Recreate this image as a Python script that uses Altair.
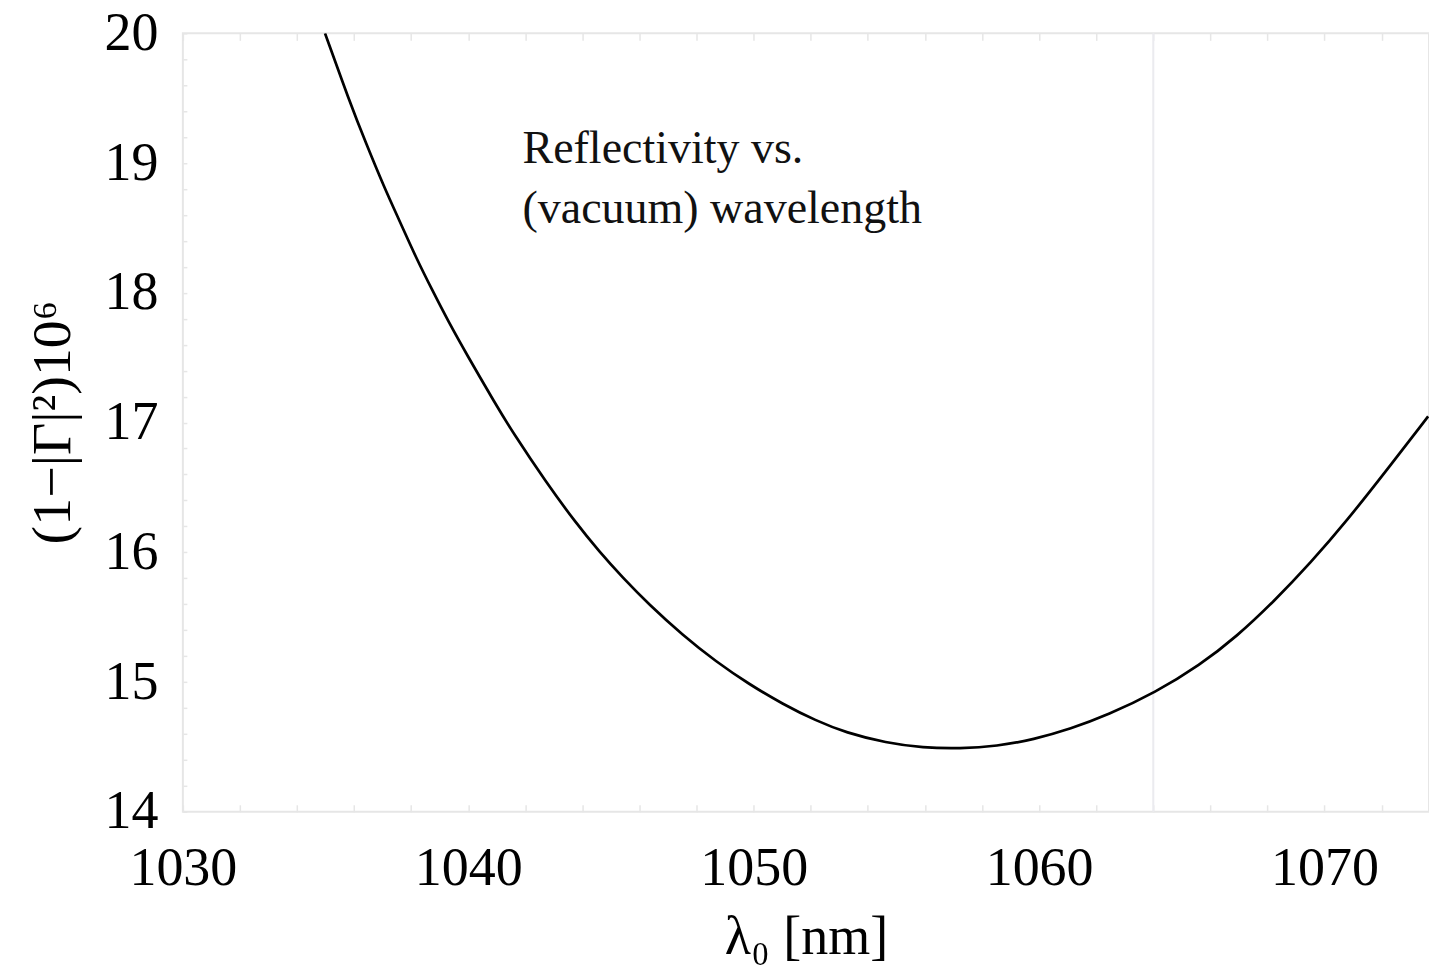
import altair as alt
import pandas as pd

# ---- data ----
wavelength_nm = [1034.98, 1035.83, 1036.42, 1037.06, 1037.58, 1038.17, 1038.75, 1039.33,
                 1039.92, 1040.97, 1041.55, 1042.72, 1043.77, 1044.59, 1045.40, 1046.34,
                 1047.51, 1048.68, 1049.84, 1051.01, 1052.18, 1053.23, 1054.64, 1055.93,
                 1057.23, 1058.52, 1059.81, 1061.11, 1062.40, 1064.08, 1065.63, 1066.93,
                 1068.22, 1069.51, 1070.81, 1072.10, 1073.63]
loss_ppm = [20.00, 19.48, 19.15, 18.81, 18.56, 18.27, 18.015, 17.767,
            17.535, 17.136, 16.927, 16.541, 16.226, 16.005, 15.807, 15.596,
            15.362, 15.157, 14.983, 14.831, 14.702, 14.610, 14.531, 14.493,
            14.487, 14.505, 14.557, 14.64, 14.745, 14.92, 15.13, 15.352,
            15.62, 15.918, 16.251, 16.611, 17.047]
marker_wavelength = [1064]
x_label_ticks = [1030, 1040, 1050, 1060, 1070]
y_label_ticks = [14, 15, 16, 17, 18, 19, 20]
x_minor_ticks = list(range(1030, 1074, 2))
y_minor_ticks = [round(14 + 0.2 * i, 1) for i in range(31)]
annotation_lines = ["Reflectivity vs.", "(vacuum) wavelength"]
x_title = "λ₀ [nm]"
y_title = "(1−|Γ|²)10⁶"

X_DOMAIN = [1030, 1073.66]
Y_DOMAIN = [14, 20]
FONT = "Liberation Serif"
FRAME = "#e6e6e6"

df = pd.DataFrame({"wl": wavelength_nm, "v": loss_ppm})
marker_df = pd.DataFrame({"wl": marker_wavelength})

xs = alt.Scale(domain=X_DOMAIN, nice=False, zero=False)
ys = alt.Scale(domain=Y_DOMAIN, nice=False, zero=False)

# visible curve with labelled axes
curve = alt.Chart(df).mark_line(color="black", strokeWidth=2.7, interpolate="basis", clip=True).encode(
    x=alt.X("wl:Q", scale=xs, axis=alt.Axis(
        orient="bottom", values=x_label_ticks, ticks=False, domain=False, grid=False,
        labelFont=FONT, labelFontSize=54, labelColor="black", labelPadding=73,
        labelBaseline="alphabetic", labelFlush=False, labelOverlap=False, format="d",
        title=x_title, titleFont=FONT, titleFontSize=54, titleFontWeight="normal",
        titleColor="black", titleY=142, titleBaseline="alphabetic")),
    y=alt.Y("v:Q", scale=ys, axis=alt.Axis(
        orient="left", values=y_label_ticks, ticks=False, domain=False, grid=False,
        labelFont=FONT, labelFontSize=54, labelColor="black", labelPadding=25,
        labelFlush=False, labelOverlap=False,
        title=y_title, titleFont=FONT, titleFontSize=56, titleFontWeight="normal",
        titleColor="black", titleX=-130, titleY=389, titleAngle=270,
        titleAlign="center", titleBaseline="middle")),
)

# invisible layer carrying inward ticks on bottom and left
ticks_bl = alt.Chart(df).mark_line(opacity=0).encode(
    x=alt.X("wl:Q", scale=xs, axis=alt.Axis(
        orient="bottom", values=x_minor_ticks, labels=False, domain=False, grid=False,
        ticks=True, tickSize=7, tickColor=FRAME, tickWidth=1.5, offset=-7, title=None)),
    y=alt.Y("v:Q", scale=ys, axis=alt.Axis(
        orient="left", values=y_minor_ticks, labels=False, domain=False, grid=False,
        ticks=True, tickSize=4, tickColor=FRAME, tickWidth=1.5, offset=-4, title=None)),
)

# invisible layer carrying inward ticks on top
ticks_top = alt.Chart(df).mark_line(opacity=0).encode(
    x=alt.X("wl:Q", scale=xs, axis=alt.Axis(
        orient="top", values=x_minor_ticks, labels=False, domain=False, grid=False,
        ticks=True, tickSize=7, tickColor=FRAME, tickWidth=1.5, offset=-7, title=None)),
    y=alt.Y("v:Q", scale=ys, axis=None),
)

marker = alt.Chart(marker_df).mark_rule(color="#ebebef", strokeWidth=2).encode(
    x=alt.X("wl:Q", scale=xs, axis=None),
)

note = alt.Chart(pd.DataFrame({"t": [0]})).mark_text(
    text=annotation_lines, font=FONT, fontSize=46, color="#111111",
    align="left", baseline="alphabetic", lineHeight=60,
).encode(
    x=alt.XDatum(1041.9, scale=xs, axis=None),
    y=alt.YDatum(19.0, scale=ys, axis=None),
)

chart = alt.layer(marker, ticks_bl, ticks_top, curve, note).resolve_axis(
    x="independent", y="independent"
).properties(
    width=1247, height=779,
    autosize=alt.AutoSizeParams(type="none"),
    padding={"left": 183, "top": 33, "right": 0, "bottom": 155},
    background="white",
).configure_view(stroke=FRAME, strokeWidth=2)

chart.save("out.html", embed_options={"renderer": "svg", "actions": False})
